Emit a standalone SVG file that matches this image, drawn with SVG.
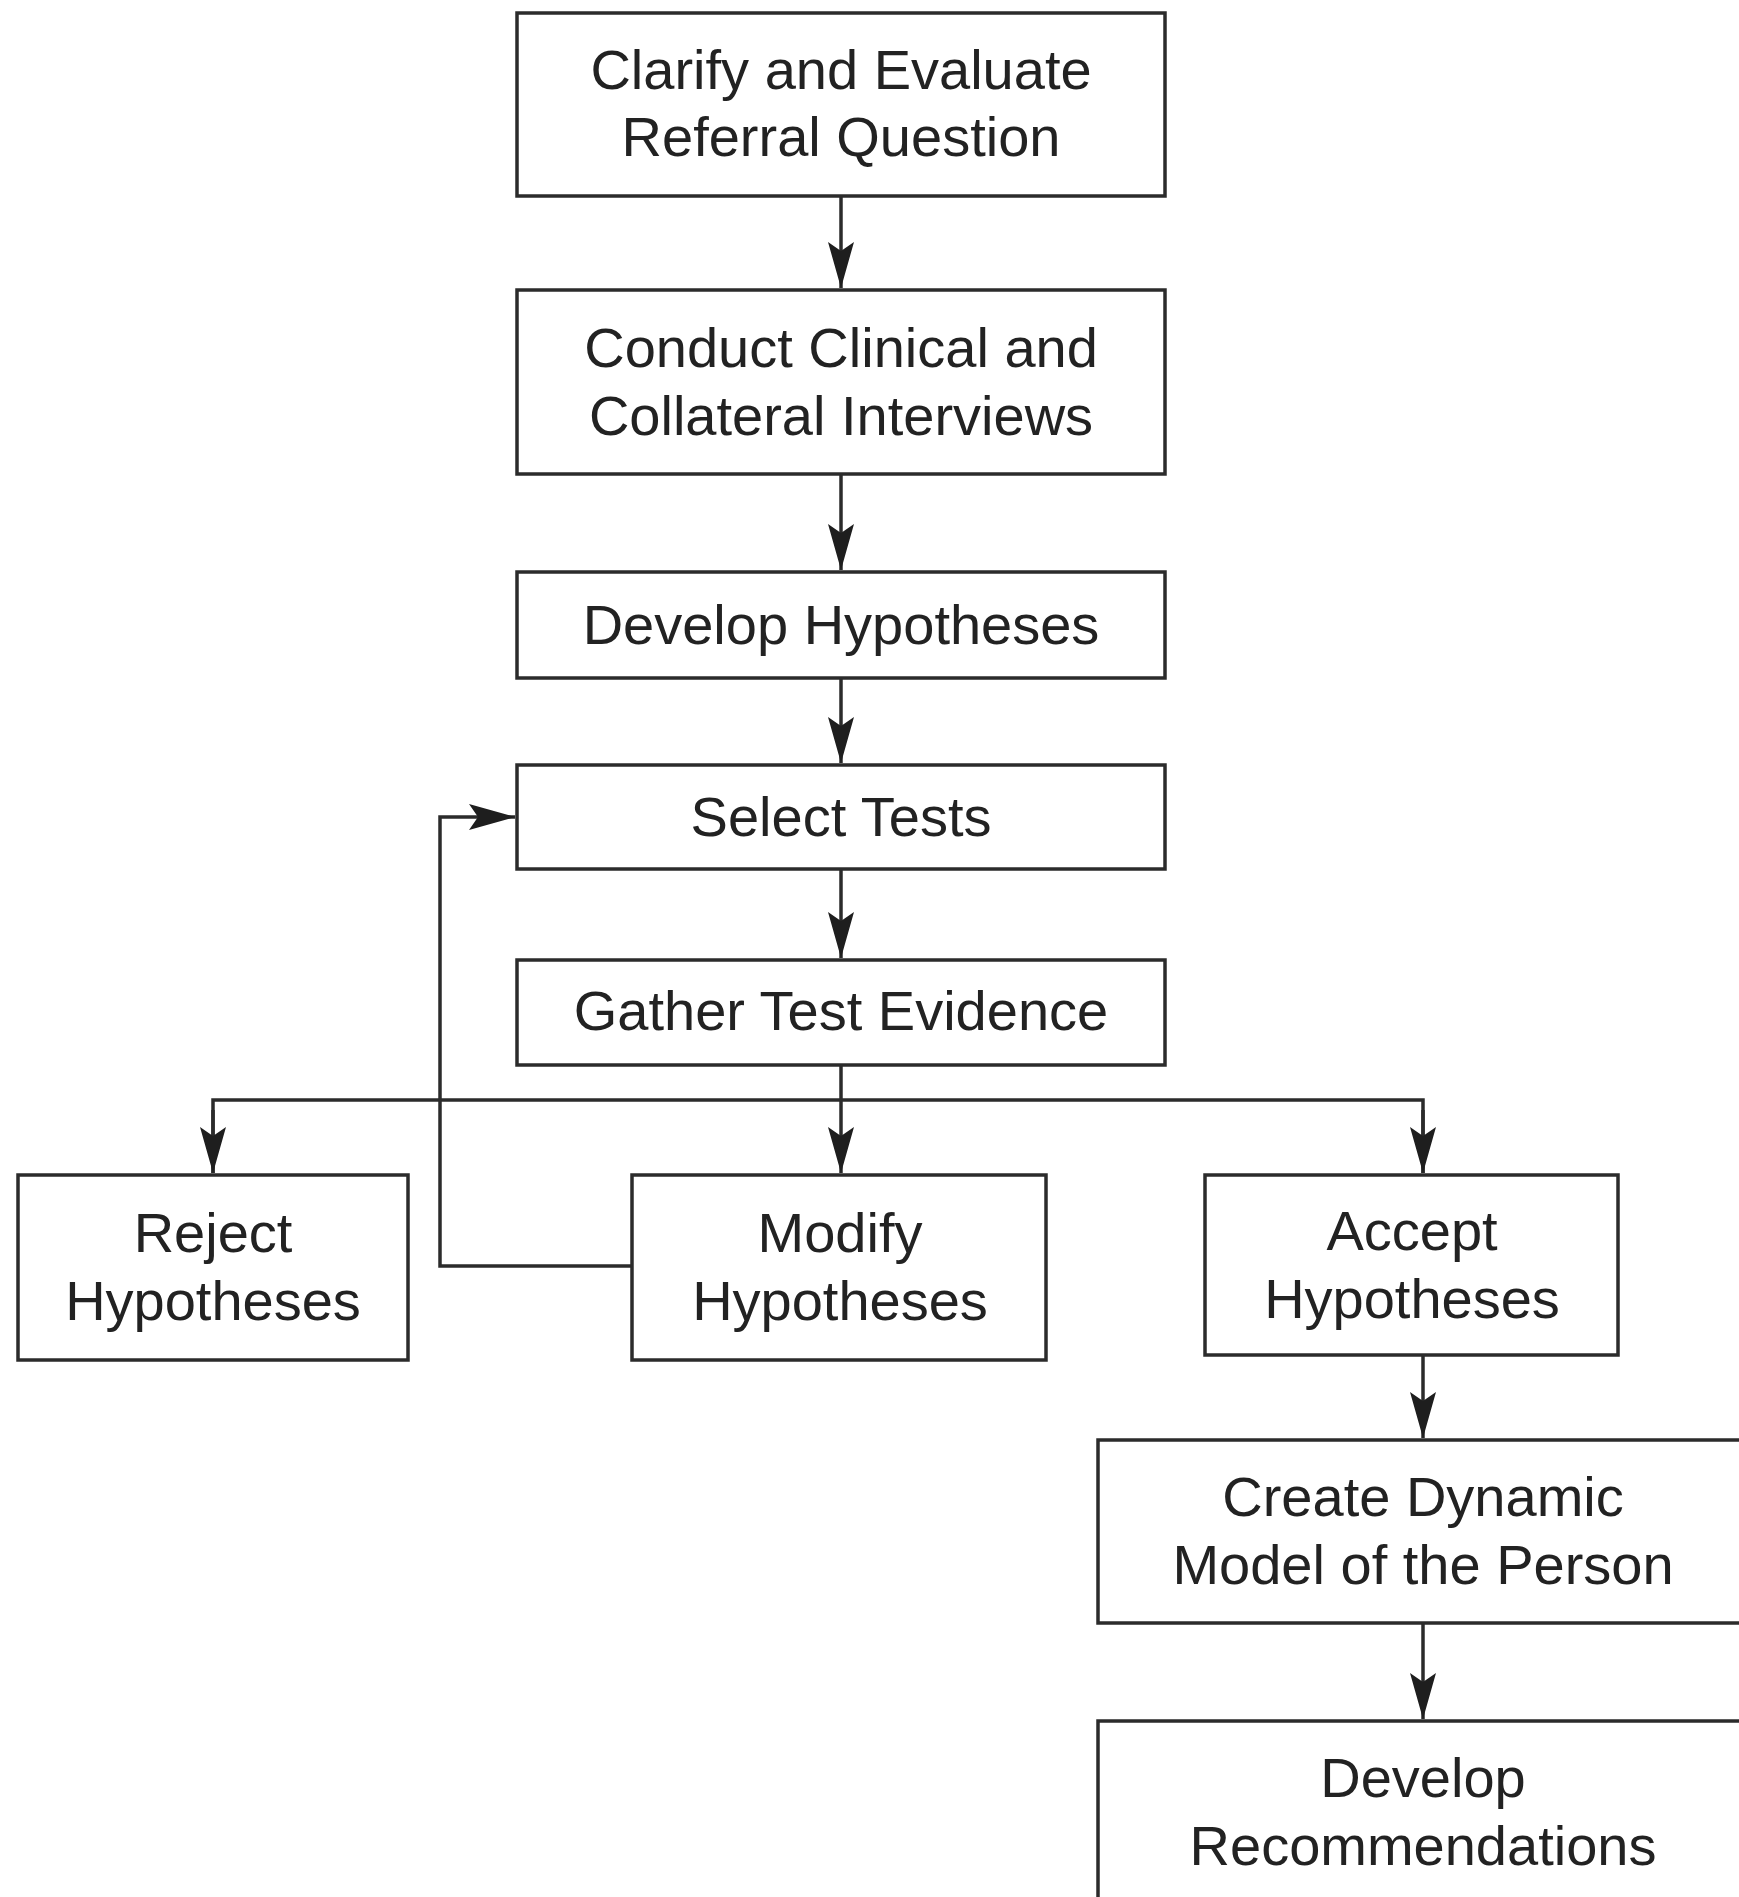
<svg xmlns="http://www.w3.org/2000/svg" width="1739" height="1897" viewBox="0 0 1739 1897">
<style>
.box{fill:#fff;stroke:#2b2b2b;stroke-width:3.5}
.t{font-family:"Liberation Sans",Arial,sans-serif;font-size:56px;fill:#222;text-anchor:middle}
.c{fill:none;stroke:#2b2b2b;stroke-width:3.5}
</style>
<defs>
<marker id="ah" markerUnits="userSpaceOnUse" markerWidth="52" markerHeight="32" viewBox="-48 -16 52 32" refX="0" refY="0" orient="auto">
<path d="M0,0 L-46,-13 L-37,0 L-46,13 Z" fill="#1e1e1e"/>
</marker>
</defs>
<g id="connectors">
<line class="c" x1="841" y1="196" x2="841" y2="288" marker-end="url(#ah)"/>
<line class="c" x1="841" y1="474" x2="841" y2="570" marker-end="url(#ah)"/>
<line class="c" x1="841" y1="678" x2="841" y2="763" marker-end="url(#ah)"/>
<line class="c" x1="841" y1="869" x2="841" y2="958" marker-end="url(#ah)"/>
<line class="c" x1="841" y1="1065" x2="841" y2="1173" marker-end="url(#ah)"/>
<polyline class="c" points="1423,1173 1423,1100 213,1100 213,1173" />
<line class="c" x1="213" y1="1110" x2="213" y2="1173" marker-end="url(#ah)"/>
<line class="c" x1="1423" y1="1110" x2="1423" y2="1173" marker-end="url(#ah)"/>
<polyline class="c" points="632,1266 440,1266 440,817 515,817" marker-end="url(#ah)"/>
<line class="c" x1="1423" y1="1355" x2="1423" y2="1438" marker-end="url(#ah)"/>
<line class="c" x1="1423" y1="1623" x2="1423" y2="1719" marker-end="url(#ah)"/>
</g>
<g id="n1"><rect class="box" x="517" y="13" width="648" height="183"/>
<text class="t" x="841" y="89">Clarify and Evaluate</text><text class="t" x="841" y="156">Referral Question</text></g>
<g id="n2"><rect class="box" x="517" y="290" width="648" height="184"/>
<text class="t" x="841" y="367">Conduct Clinical and</text><text class="t" x="841" y="435">Collateral Interviews</text></g>
<g id="n3"><rect class="box" x="517" y="572" width="648" height="106"/>
<text class="t" x="841" y="644">Develop Hypotheses</text></g>
<g id="n4"><rect class="box" x="517" y="765" width="648" height="104"/>
<text class="t" x="841" y="836">Select Tests</text></g>
<g id="n5"><rect class="box" x="517" y="960" width="648" height="105"/>
<text class="t" x="841" y="1030">Gather Test Evidence</text></g>
<g id="n6"><rect class="box" x="18" y="1175" width="390" height="185"/>
<text class="t" x="213" y="1252">Reject</text><text class="t" x="213" y="1320">Hypotheses</text></g>
<g id="n7"><rect class="box" x="632" y="1175" width="414" height="185"/>
<text class="t" x="840" y="1252">Modify</text><text class="t" x="840" y="1320">Hypotheses</text></g>
<g id="n8"><rect class="box" x="1205" y="1175" width="413" height="180"/>
<text class="t" x="1412" y="1250">Accept</text><text class="t" x="1412" y="1318">Hypotheses</text></g>
<g id="n9"><rect class="box" x="1098" y="1440" width="660" height="183"/>
<text class="t" x="1423" y="1516">Create Dynamic</text><text class="t" x="1423" y="1584">Model of the Person</text></g>
<g id="n10"><rect class="box" x="1098" y="1721" width="660" height="200"/>
<text class="t" x="1423" y="1797">Develop</text><text class="t" x="1423" y="1865">Recommendations</text></g>
</svg>
